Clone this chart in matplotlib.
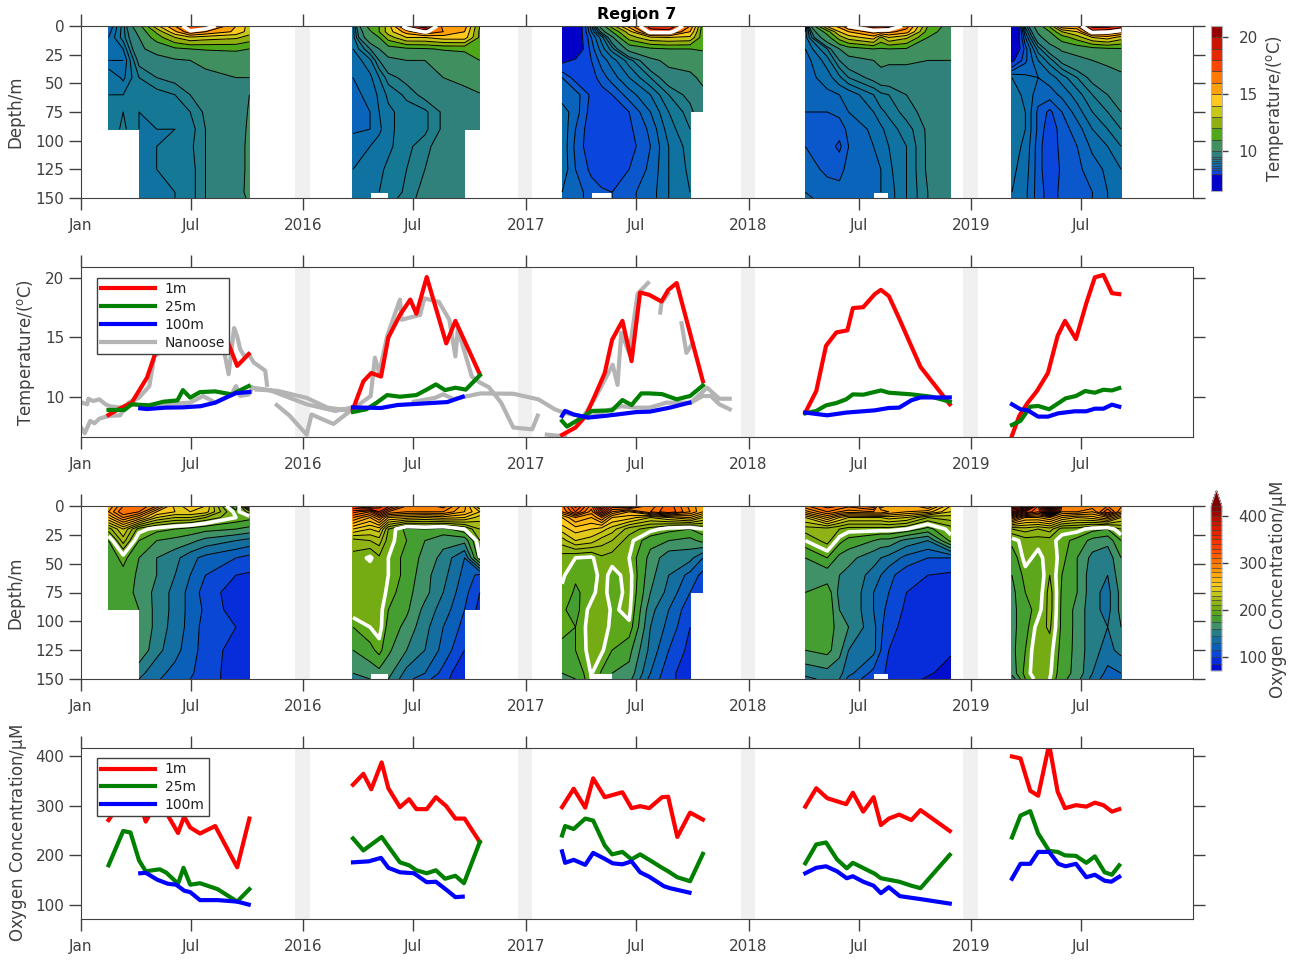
import matplotlib
matplotlib.use('Agg')
import matplotlib.pyplot as plt
import numpy as np
from matplotlib.colors import LinearSegmentedColormap

nan = np.nan

# time axis is days since 2015-01-01
tick_days = [0, 181, 365, 546, 731, 912, 1096, 1277, 1461, 1642]
tick_labels = ['Jan', 'Jul', '2016', 'Jul', '2017', 'Jul', '2018', 'Jul', '2019', 'Jul']
band_days = [(352, 376), (717, 741), (1083, 1107), (1448, 1472)]
depths = [0, 5, 10, 20, 30, 45, 60, 75, 90, 105, 125, 145, 150]

days1 = [46, 70, 96, 125, 155, 180, 205, 255, 277]
days2 = [447, 475, 490, 505, 535, 565, 595, 630, 655]
days3 = [790, 812, 838, 855, 872, 900, 935, 965, 1000, 1021]
days4 = [1189, 1225, 1245, 1260, 1301, 1313, 1326, 1355, 1390, 1428]
days5 = [1528, 1550, 1571, 1590, 1610, 1635, 1660, 1685, 1707]

temp1 = [[8.5, 9.2, 10.6, 13.7, 16.0, 18.0, 18.0, 15.0, 13.6],
         [8.6, 9.2, 10.2, 12.2, 14.8, 16.8, 16.0, 14.8, 13.5],
         [8.7, 9.2, 10.0, 11.5, 13.0, 13.8, 13.5, 13.2, 12.6],
         [8.8, 8.9, 9.9, 10.2, 10.8, 11.0, 11.1, 11.2, 11.0],
         [8.7, 8.7, 9.6, 9.8, 9.9, 10.0, 10.1, 10.2, 10.6],
         [9.1, 8.85, 9.3, 9.5, 9.6, 9.7, 9.9, 10.0, 10.0],
         [9.1, 9.1, 9.15, 9.2, 9.3, 9.5, 9.7, 9.8, 10.0],
         [9.15, 9.3, 9.1, 9.2, 9.2, 9.3, 9.55, 9.7, 10.05],
         [9.15, 9.35, 9.1, 9.1, 9.1, 9.2, 9.5, 9.7, 10.1],
         [nan, nan, 9.05, 9.1, 9.15, 9.25, 9.5, 9.8, 10.1],
         [nan, nan, 9.1, 9.1, 9.15, 9.2, 9.5, 9.8, 10.1],
         [nan, nan, 9.0, 9.05, 9.1, 9.2, 9.5, 9.85, 10.1],
         [nan, nan, 9.0, 9.05, 9.1, 9.2, 9.5, 9.85, 10.05]]
temp2 = [[9.0, 11.5, 12.0, 13.5, 18.0, 20.0, 15.5, 15.5, 12.0],
         [9.0, 10.8, 12.0, 13.5, 15.5, 17.2, 16.0, 15.0, 11.8],
         [9.0, 10.5, 11.0, 12.5, 14.0, 14.0, 14.5, 14.5, 11.8],
         [8.9, 9.5, 10.0, 10.5, 10.8, 10.9, 11.1, 11.2, 11.3],
         [8.75, 9.05, 9.5, 9.8, 10.0, 10.0, 10.2, 10.4, 11.0],
         [8.7, 8.85, 9.1, 9.4, 9.6, 9.8, 10.0, 10.05, 10.9],
         [8.65, 8.75, 8.95, 9.15, 9.35, 9.6, 9.8, 9.95, 9.9],
         [8.65, 8.7, 8.9, 9.05, 9.2, 9.25, 9.55, 9.85, 9.9],
         [8.65, 8.7, 8.85, 9.05, 9.2, 9.25, 9.55, 9.8, 9.9],
         [8.85, 8.9, 9.0, 9.05, 9.25, 9.4, 9.7, 9.8, nan],
         [8.9, 9.0, 9.05, 9.15, 9.3, 9.5, 9.75, 9.8, nan],
         [9.0, 9.05, 9.1, 9.15, 9.35, 9.6, 9.75, 9.8, nan],
         [9.0, 9.05, nan, 9.2, 9.4, 9.6, 9.75, 9.8, nan]]
temp3 = [[6.8, 7.4, 8.8, 10.4, 12.5, 15.5, 18.5, 19.0, 16.0, 11.5],
         [6.9, 7.5, 8.7, 9.6, 11.0, 13.5, 17.5, 17.5, 15.0, 11.3],
         [7.2, 7.6, 8.5, 9.0, 9.8, 12.5, 13.8, 14.0, 13.8, 11.4],
         [7.6, 7.6, 8.4, 8.8, 9.2, 10.2, 10.8, 11.0, 11.0, 11.1],
         [7.9, 8.05, 8.3, 8.6, 8.8, 9.2, 9.8, 10.2, 10.2, 10.5],
         [8.5, 8.2, 8.2, 8.4, 8.6, 8.9, 9.3, 9.7, 9.9, 10.1],
         [8.6, 8.6, 8.25, 8.2, 8.3, 8.6, 8.9, 9.3, 9.6, 9.9],
         [8.8, 8.6, 8.2, 8.1, 8.1, 8.3, 8.7, 9.1, 9.4, 9.8],
         [8.85, 8.5, 8.15, 8.1, 8.1, 8.25, 8.55, 9.0, 9.3, nan],
         [8.85, 8.45, 8.15, 8.1, 8.1, 8.2, 8.5, 8.9, 9.2, nan],
         [8.85, 8.5, 8.25, 8.1, 8.2, 8.3, 8.55, 8.9, 9.15, nan],
         [8.7, 8.6, 8.4, 8.35, 8.3, 8.45, 8.6, 8.9, 9.1, nan],
         [8.7, 8.6, 8.4, nan, 8.3, 8.45, 8.6, 8.9, 9.1, nan]]
temp4 = [[8.6, 14.3, 15.4, 17.2, 18.7, 19.0, 18.5, 16.5, 12.0, 10.4],
         [8.7, 11.5, 14.0, 15.0, 16.5, 16.2, 16.3, 15.5, 11.5, 10.3],
         [8.8, 10.5, 12.5, 13.5, 14.5, 12.8, 14.0, 13.2, 11.0, 10.2],
         [8.7, 9.3, 10.0, 10.5, 11.0, 10.9, 11.0, 10.9, 10.3, 10.1],
         [8.6, 9.0, 9.5, 9.7, 10.0, 10.2, 10.1, 10.1, 10.0, 10.0],
         [8.6, 8.8, 9.05, 9.3, 9.6, 9.7, 9.7, 9.7, 9.8, 9.9],
         [8.55, 8.65, 8.7, 8.75, 9.1, 9.25, 9.3, 9.5, 9.7, 9.85],
         [8.5, 8.5, 8.55, 8.7, 8.9, 9.05, 9.15, 9.4, 9.6, 9.8],
         [8.5, 8.45, 8.4, 8.55, 8.75, 8.85, 9.0, 9.2, 9.55, 9.8],
         [8.5, 8.4, 8.25, 8.5, 8.7, 8.75, 8.9, 9.1, 9.55, 9.8],
         [8.6, 8.45, 8.45, 8.55, 8.65, 8.7, 8.85, 9.1, 9.55, 9.8],
         [8.7, 8.6, 8.55, 8.55, 8.6, 8.7, 8.8, 9.1, 9.5, 9.8],
         [8.75, 8.6, 8.55, 8.55, 8.6, nan, 8.8, 9.1, 9.5, 9.8]]
temp5 = [[6.7, 9.2, 10.4, 12.2, 16.0, 16.0, 19.5, 19.5, 18.7],
         [6.9, 8.9, 10.1, 11.0, 13.0, 14.0, 17.5, 17.2, 16.5],
         [7.2, 8.7, 9.8, 10.4, 11.5, 12.5, 14.0, 14.5, 13.5],
         [7.4, 8.4, 9.2, 9.7, 10.1, 10.3, 10.6, 10.8, 10.9],
         [7.9, 8.45, 8.9, 9.2, 9.6, 9.8, 10.0, 10.1, 10.2],
         [8.9, 8.75, 8.7, 8.8, 9.0, 9.3, 9.6, 9.8, 9.9],
         [9.0, 8.85, 8.6, 8.6, 8.75, 9.0, 9.3, 9.5, 9.7],
         [9.05, 8.9, 8.45, 8.25, 8.5, 8.8, 9.1, 9.3, 9.5],
         [9.05, 8.9, 8.45, 8.15, 8.4, 8.6, 8.9, 9.1, 9.3],
         [9.0, 8.85, 8.4, 8.1, 8.4, 8.5, 8.75, 8.9, 9.1],
         [8.95, 8.8, 8.4, 8.1, 8.35, 8.45, 8.6, 8.75, 8.9],
         [8.9, 8.75, 8.4, 8.2, 8.35, 8.4, 8.5, 8.7, 8.8],
         [8.9, 8.75, 8.4, 8.2, 8.35, 8.4, 8.5, 8.7, 8.8]]

oxy1 = [[271, 300, 310, 290, 245, 256, 250, 177, 274],
        [280, 310, 300, 260, 250, 250, 245, 195, 215],
        [260, 290, 270, 240, 230, 230, 220, 200, 195],
        [215, 240, 205, 195, 190, 185, 180, 175, 170],
        [190, 225, 190, 175, 170, 165, 155, 145, 140],
        [180, 195, 175, 160, 150, 135, 125, 115, 110],
        [178, 185, 172, 160, 145, 130, 115, 100, 98],
        [178, 180, 172, 155, 140, 125, 108, 92, 90],
        [180, 180, 175, 155, 140, 125, 112, 92, 92],
        [nan, nan, 175, 155, 138, 125, 108, 100, 95],
        [nan, nan, 172, 150, 135, 122, 108, 94, 96],
        [nan, nan, 150, 135, 125, 118, 105, 95, 95],
        [nan, nan, 145, 132, 122, 115, 105, 95, 95]]
oxy2 = [[342, 364, 345, 335, 300, 293, 305, 274, 228],
        [315, 300, 330, 300, 290, 290, 290, 270, 250],
        [290, 270, 290, 260, 255, 250, 255, 250, 235],
        [250, 240, 245, 210, 185, 190, 185, 200, 220],
        [215, 220, 225, 205, 190, 175, 165, 165, 210],
        [207, 198, 208, 200, 185, 170, 155, 130, 200],
        [208, 208, 208, 200, 185, 165, 150, 125, 110],
        [210, 209, 207, 197, 180, 165, 145, 120, 100],
        [208, 206, 205, 190, 178, 155, 138, 115, 95],
        [190, 200, 205, 185, 170, 150, 130, 110, nan],
        [175, 185, 195, 178, 160, 145, 125, 100, nan],
        [160, 165, 170, 165, 140, 130, 110, 85, nan],
        [160, 160, nan, 160, 135, 120, 105, 88, nan]]
oxy3 = [[297, 334, 296, 355, 317, 327, 293, 317, 286, 272],
        [290, 320, 285, 330, 290, 270, 300, 320, 290, 270],
        [260, 280, 270, 290, 260, 255, 240, 250, 260, 240],
        [245, 255, 250, 245, 235, 215, 205, 195, 190, 200],
        [225, 240, 235, 225, 220, 205, 180, 175, 170, 180],
        [205, 200, 198, 208, 205, 200, 170, 150, 150, 130],
        [202, 192, 190, 207, 195, 205, 165, 145, 125, 110],
        [198, 188, 195, 208, 192, 205, 160, 140, 115, 100],
        [192, 185, 205, 209, 198, 203, 150, 130, 105, nan],
        [192, 190, 206, 208, 196, 198, 145, 125, 100, nan],
        [188, 190, 205, 202, 190, 180, 140, 115, 95, nan],
        [175, 178, 201, 188, 175, 170, 130, 105, 90, nan],
        [170, 175, 200, nan, 170, 165, 125, 105, 90, nan]]
oxy4 = [[298, 315, 310, 303, 317, 261, 274, 271, 291, 249],
        [275, 300, 290, 285, 290, 290, 280, 270, 265, 240],
        [240, 270, 250, 240, 240, 240, 245, 240, 220, 225],
        [215, 215, 210, 205, 205, 205, 205, 200, 185, 205],
        [200, 215, 195, 185, 175, 170, 170, 155, 145, 195],
        [175, 190, 170, 165, 150, 145, 140, 125, 115, 115],
        [170, 165, 160, 155, 140, 130, 120, 105, 100, 97],
        [175, 185, 155, 160, 130, 125, 115, 100, 95, 92],
        [178, 188, 160, 160, 130, 120, 110, 97, 92, 90],
        [178, 188, 165, 160, 135, 118, 105, 95, 90, 88],
        [175, 180, 165, 145, 135, 115, 100, 92, 88, 86],
        [150, 155, 150, 135, 110, 105, 95, 88, 86, 82],
        [140, 150, 145, 125, 105, nan, 95, 88, 84, 80]]
oxy5 = [[399, 390, 320, 423, 300, 300, 298, 300, 293],
        [360, 330, 310, 380, 290, 290, 280, 320, 280],
        [300, 270, 270, 280, 260, 250, 255, 270, 240],
        [220, 225, 220, 225, 205, 205, 195, 190, 210],
        [195, 205, 205, 205, 195, 185, 170, 165, 190],
        [180, 205, 195, 208, 195, 175, 155, 150, 175],
        [175, 195, 190, 210, 190, 175, 150, 145, 170],
        [170, 190, 192, 215, 188, 175, 150, 140, 165],
        [170, 185, 195, 215, 187, 170, 150, 140, 165],
        [170, 185, 205, 212, 187, 170, 150, 145, 160],
        [170, 190, 210, 205, 185, 170, 150, 140, 150],
        [165, 195, 208, 202, 182, 170, 145, 125, 130],
        [150, 190, 205, 200, 180, 165, 140, 120, 125]]

# temperature lines, one pair of lists per depth, nan splits the years
t1m_day = [46, 62, 84, 109, 123, 140, 160, 180, 201, 221, 238, 257, 276, nan,
           447, 464, 477, 493, 505, 524, 541, 551, 568, 600, 615, 655, nan,
           790, 812, 829, 846, 860, 872, 889, 904, 918, 933, 953, 964, 978, 1021, nan,
           1189, 1207, 1223, 1240, 1258, 1267, 1284, 1303, 1313, 1326, 1343, 1363, 1378, 1426, nan,
           1528, 1540, 1554, 1569, 1587, 1603, 1615, 1633, 1650, 1664, 1678, 1692, 1704]
t1m_val = [8.46, 8.94, 9.5, 11.6, 13.7, 15.5, 17.5, 18, 18.5, 16.5, 15.1, 12.6, 13.6, nan,
           8.94, 11.3, 12.0, 11.7, 15, 16.9, 18.2, 17, 20.1, 14.5, 16.4, 11.9, nan,
           6.78, 7.4, 8.38, 10.34, 12, 14.8, 16.4, 13, 18.8, 18.6, 18.04, 19, 19.6, 11.3, nan,
           8.66, 10.48, 14.3, 15.43, 15.6, 17.48, 17.56, 18.66, 19.02, 18.5, 16.6, 14.26, 12.52, 9.36, nan,
           6.7, 8.38, 9.5, 10.48, 12, 15.15, 16.4, 14.87, 17.9, 20.08, 20.28, 18.74, 18.66]
t25m_day = [46, 72, 84, 113, 136, 159, 168, 180, 196, 221, 248, 276, nan,
            447, 469, 486, 503, 524, 551, 568, 583, 598, 615, 632, 655, nan,
            790, 798, 818, 839, 872, 889, 904, 920, 933, 954, 978, 1000, 1021, nan,
            1189, 1207, 1223, 1240, 1256, 1267, 1284, 1313, 1326, 1363, 1396, 1426, nan,
            1528, 1542, 1558, 1571, 1589, 1616, 1633, 1648, 1664, 1678, 1692, 1704]
t25m_val = [8.88, 8.88, 9.36, 9.27, 9.58, 9.69, 10.56, 9.92, 10.39, 10.45, 10.2, 10.9, nan,
            8.71, 8.94, 9.5, 10.14, 10, 10.14, 10.6, 11.04, 10.56, 10.76, 10.6, 11.8, nan,
            7.95, 7.48, 8.1, 8.8, 8.85, 9.72, 9.3, 10.28, 10.28, 10.22, 9.78, 10.06, 10.95, nan,
            8.6, 8.8, 9.27, 9.47, 9.78, 10.2, 10.17, 10.53, 10.34, 10.2, 10, 9.58, nan,
            7.62, 7.96, 9.16, 9.22, 8.94, 9.86, 10.06, 10.48, 10.34, 10.59, 10.53, 10.73]
t100m_day = [98, 109, 140, 167, 197, 221, 242, 255, 277, nan,
             447, 493, 520, 602, 627, nan,
             790, 795, 809, 833, 860, 880, 911, 934, 967, 999, nan,
             1189, 1225, 1256, 1303, 1326, 1343, 1363, 1378, 1426, nan,
             1528, 1542, 1554, 1571, 1587, 1604, 1631, 1650, 1664, 1678, 1692, 1704]
t100m_val = [9.02, 8.96, 9.08, 9.1, 9.2, 9.5, 10, 10.3, 10.4, nan,
             9.1, 9.05, 9.3, 9.55, 10, nan,
             8.38, 8.8, 8.5, 8.24, 8.38, 8.5, 8.7, 8.74, 9.08, 9.5, nan,
             8.66, 8.43, 8.66, 8.85, 9.05, 9.08, 9.7, 9.94, 9.94, nan,
             9.36, 8.94, 8.85, 8.32, 8.32, 8.6, 8.77, 8.77, 8.99, 8.99, 9.33, 9.16]
nanoose_day = [0, 7, 16, 23, 31, 46, 65, 79, 96, 113, 121, 180, 235, 243, 252, 257, 262, 269, 276, 284, 303, 306, nan,
               322, 343, 371, 379, 415, 445, 476, 483, 490, 503, 524, 527, 557, 564, 588, 605, 615, 619, 642, 655, 670,
               690, 710, 741, 750, nan,
               765, 795, nan, 826, 846, 873, 881, 887, 900, 914, 931, nan, 951, 953, 964, nan, 986, 994, 1004, nan,
               289, 323, 371, 405, 445, nan, 282, 310, 371, 418, 445, nan,
               0, 11, 13, 21, 31, 41, 48, 65, 85, 99, 180, 201, 221, 248, 255, 262, 276, 282, nan,
               547, 581, 595, 612, 636, 656, 710, 751, 778, 792, 833, 853, 887, 911, 934, 961, 1001, 1028, 1048, 1065, nan,
               1001, 1021, 1034, 1048, 1065]
nanoose_val = [7.48, 6.92, 7.96, 7.76, 8.15, 8.38, 8.43, 9.5, 9.92, 10.9, 13.4, 15.5, 14, 11.9, 15.8, 15.1, 14, 13.4, 13.6, 12.9, 12.2, 11, nan,
               9.3, 8.4, 6.8, 8.5, 7.7, 8.9, 10.06, 13.3, 12, 15.1, 18.2, 16.5, 16.9, 18.3, 18, 16.5, 13.4, 15.7, 11.7, 11.2, 10.8,
               9.5, 7.4, 7.25, 8.4, nan,
               6.8, 6.65, nan, 8.4, 10.06, 12.7, 11, 15.4, 13.7, 18.7, 19.6, nan, 17.1, 17.9, 18.7, nan, 16.2, 13.7, 14.5, nan,
               10.6, 10.5, 9.9, 9.08, 8.8, nan, 10.76, 10.56, 9.36, 8.8, 9.08, nan,
               9.55, 9.36, 9.83, 9.64, 9.78, 9.36, 9.2, 9.08, 9.36, 9.27, 9.5, 10.06, 9.5, 10.2, 10.9, 10.06, 10.2, 10.76, nan,
               9.58, 9.9, 10.2, 9.8, 10.06, 10.28, 10.25, 9.78, 8.94, 8.66, 8.24, 8.66, 9.2, 9.08, 9.08, 9.5, 9.5, 10.76, 9.83, 9.83, nan,
               9.5, 10.06, 10.06, 9.36, 8.94]

# oxygen lines
o1m_day = [46, 62, 85, 96, 107, 116, 130, 143, 160, 170, 180, 196, 221, 257, 277, nan,
           447, 464, 477, 494, 505, 524, 539, 551, 568, 583, 600, 615, 630, 655, nan,
           790, 809, 828, 841, 860, 889, 904, 918, 933, 954, 964, 979, 1000, 1021, nan,
           1189, 1207, 1225, 1256, 1267, 1284, 1301, 1313, 1326, 1343, 1363, 1378, 1426, nan,
           1528, 1542, 1558, 1571, 1589, 1603, 1615, 1633, 1650, 1664, 1678, 1692, 1704]
o1m_val = [271, 300, 320, 310, 268, 288, 300, 281, 245, 278, 256, 244, 259, 176, 274, nan,
           342, 364, 333, 387, 335, 297, 313, 293, 293, 317, 299, 274, 274, 227, nan,
           297, 334, 296, 355, 317, 327, 295, 299, 295, 317, 318, 237, 286, 272, nan,
           298, 335, 315, 303, 326, 288, 317, 261, 274, 282, 271, 291, 249, nan,
           399, 395, 330, 320, 423, 328, 295, 301, 298, 306, 301, 288, 293]
o25m_day = [46, 70, 82, 96, 107, 130, 141, 160, 169, 180, 196, 225, 257, 277, nan,
            447, 464, 494, 508, 524, 539, 551, 568, 583, 598, 615, 629, 655, nan,
            790, 795, 809, 828, 841, 860, 872, 889, 904, 918, 933, 954, 964, 979, 1000, 1021, nan,
            1189, 1207, 1223, 1241, 1257, 1267, 1303, 1313, 1343, 1363, 1378, 1426, nan,
            1528, 1542, 1558, 1571, 1589, 1603, 1615, 1633, 1650, 1664, 1680, 1692, 1704]
o25m_val = [180, 249, 246, 190, 168, 172, 165, 143, 175, 141, 144, 132, 107, 132, nan,
            234, 210, 237, 213, 186, 180, 170, 164, 170, 153, 159, 144, 227, nan,
            240, 259, 253, 274, 270, 220, 202, 207, 192, 202, 191, 175, 168, 156, 148, 203, nan,
            184, 222, 226, 192, 174, 185, 163, 154, 147, 139, 134, 201, nan,
            236, 280, 289, 244, 209, 207, 200, 199, 185, 198, 166, 161, 180]
o100m_day = [98, 107, 126, 143, 157, 170, 180, 196, 225, 257, 276, nan,
             447, 473, 493, 505, 524, 547, 568, 583, 602, 615, 627, nan,
             790, 795, 809, 828, 841, 860, 873, 889, 904, 918, 933, 957, 967, 999, nan,
             1189, 1207, 1223, 1241, 1257, 1267, 1284, 1301, 1313, 1326, 1344, 1378, 1426, nan,
             1528, 1542, 1558, 1571, 1589, 1604, 1616, 1633, 1650, 1664, 1680, 1691, 1704]
o100m_val = [164, 165, 151, 143, 141, 129, 126, 110, 110, 107, 101, nan,
             186, 188, 195, 175, 166, 164, 146, 147, 129, 116, 117, nan,
             208, 185, 191, 181, 205, 193, 184, 182, 188, 166, 157, 138, 134, 125, nan,
             164, 175, 178, 168, 154, 158, 147, 139, 124, 136, 118, 112, 103, nan,
             153, 183, 183, 207, 207, 183, 178, 183, 156, 161, 149, 147, 157]

temp_levels = [6.5, 8, 8.3, 8.5, 8.7, 8.9, 9.1, 9.3, 9.5, 10, 11, 12, 13, 14, 15, 16, 17, 18, 19, 20, 21]
temp_colors = ['#0000c8', '#0a46dc', '#0a58cb', '#0a64b9', '#0a6cab', '#0f72a0', '#157894', '#1f7c88', '#30807c',
               '#3f8f5f', '#4fa81a', '#90b010', '#c8c818', '#ffc81e', '#ffa00a', '#ff7800', '#ff4600', '#e62800',
               '#c81400', '#960000']
oxy_levels = [70, 85, 100, 115, 130, 145, 160, 175, 190, 200] + list(range(210, 430, 10))
oxy_anchor = [(70, '#0000c8'), (100, '#0a3ce0'), (125, '#0a64b4'), (150, '#1f7a8c'), (165, '#3f8f6f'), (185, '#45a02a'),
              (200, '#6aaa14'), (220, '#9ab414'), (240, '#d2cc18'), (255, '#ffc81e'), (280, '#ffa00a'), (300, '#ff7800'),
              (330, '#ff4600'), (360, '#e62800'), (390, '#c81400'), (420, '#7d0000')]
oxy_cmap = LinearSegmentedColormap.from_list('oxy', [((v - 70) / 350.0, c) for v, c in oxy_anchor])
oxy_cmap.set_over('#7d0000')

W, H = 1291.0, 961.0
ink = '#404040'
plt.rcParams['font.size'] = 11
plt.rcParams['text.color'] = ink
plt.rcParams['axes.labelcolor'] = ink
plt.rcParams['axes.labelsize'] = 12
plt.rcParams['xtick.color'] = ink
plt.rcParams['ytick.color'] = ink
plt.rcParams['axes.edgecolor'] = ink
plt.rcParams['mathtext.default'] = 'regular'

fig = plt.figure(figsize=(W / 100, H / 100), dpi=100)


def make_axes(top, bottom):
    ax = fig.add_axes([80.5 / W, 1 - bottom / H, (1193 - 80.5) / W, (bottom - top) / H])
    ax.set_xlim(0, 1825)
    ax.set_xticks(tick_days)
    ax.set_xticklabels(tick_labels)
    ax.tick_params(axis='both', direction='out', length=8.6, width=1, top=True, right=True)
    ax.tick_params(axis='x', pad=6)
    ax.tick_params(axis='y', pad=3)
    for a, b in band_days:
        ax.axvspan(a, b, color='#f0f0f0', lw=0, zorder=0)
    return ax


def draw_section(ax, blocks, levels, white, line_levels, **kw):
    cs = None
    for days, vals in blocks:
        z = np.array(vals, dtype=float)
        cs = ax.contourf(days, depths, z, levels=levels, zorder=1, corner_mask=False, **kw)
        ax.contour(days, depths, z, levels=line_levels, colors='k', linewidths=0.7, zorder=2, corner_mask=False)
        ax.contour(days, depths, z, levels=[white], colors='w', linewidths=2.6, zorder=3, corner_mask=False)
    ax.set_ylim(150, 0)
    ax.set_yticks([0, 25, 50, 75, 100, 125, 150])
    ax.set_ylabel('Depth/m')
    ax.yaxis.set_label_coords(-0.05, 0.5)
    return cs


# top panel
ax1 = make_axes(26, 198)
temp_blocks = [(days1, temp1), (days2, temp2), (days3, temp3), (days4, temp4), (days5, temp5)]
cs1 = draw_section(ax1, temp_blocks, temp_levels, 17, temp_levels, colors=temp_colors)
fig.text(637 / W, 1 - 14 / H, 'Region 7', ha='center', va='center', fontweight='bold', color='k', fontsize=11.5)
cax1 = fig.add_axes([1211 / W, 1 - 190.7 / H, 11 / W, 164.7 / H])
cb1 = fig.colorbar(cs1, cax=cax1, ticks=[10, 15, 20], spacing='proportional', drawedges=True)
cb1.dividers.set_linewidth(0.6)
cb1.outline.set_edgecolor('#b0b0b0')
cb1.ax.tick_params(length=4, width=1, pad=8)
fig.text(1275 / W, 1 - 108 / H, 'Temperature/($^{o}$C)', rotation=90, ha='center', va='center', fontsize=12)

# temperature lines
ax2 = make_axes(267, 437)
ax2.plot(t1m_day, t1m_val, color='r', lw=3, label='1m', zorder=3)
ax2.plot(t25m_day, t25m_val, color='g', lw=3, label='25m', zorder=3)
ax2.plot(t100m_day, t100m_val, color='b', lw=3, label='100m', zorder=3)
ax2.plot(nanoose_day, nanoose_val, color='#b4b4b4', lw=3, label='Nanoose', zorder=2)
ax2.set_ylim(6.6, 20.95)
ax2.set_yticks([10, 15, 20])
ax2.set_ylabel('Temperature/($^{o}$C)')
ax2.yaxis.set_label_coords(-0.039, 0.5)
leg2 = ax2.legend(loc='upper left', bbox_to_anchor=(0.0144, 0.935), borderaxespad=0, fancybox=False, framealpha=1,
                  edgecolor=ink, fontsize=10, handlelength=3.9, labelspacing=0.28, borderpad=0.3, handletextpad=0.7)
leg2.set_zorder(20)
for t in leg2.get_texts():
    t.set_color('#202020')

# oxygen section
ax3 = make_axes(506, 679)
oxy_blocks = [(days1, oxy1), (days2, oxy2), (days3, oxy3), (days4, oxy4), (days5, oxy5)]
cs3 = draw_section(ax3, oxy_blocks, oxy_levels, 200, oxy_levels, cmap=oxy_cmap, extend='max')
cax3 = fig.add_axes([1211 / W, 1 - 671 / H, 11 / W, 181 / H])
cb3 = fig.colorbar(cs3, cax=cax3, ticks=[100, 200, 300, 400], spacing='proportional', drawedges=True, extendfrac=0.1)
cb3.dividers.set_linewidth(0.5)
cb3.outline.set_edgecolor('#b0b0b0')
cb3.ax.tick_params(length=4, width=1, pad=8)
fig.text(1278 / W, 1 - 590 / H, 'Oxygen Concentration/$\\mu$M', rotation=90, ha='center', va='center', fontsize=12)

# oxygen lines
ax4 = make_axes(748, 919)
ax4.plot(o1m_day, o1m_val, color='r', lw=3, label='1m')
ax4.plot(o25m_day, o25m_val, color='g', lw=3, label='25m')
ax4.plot(o100m_day, o100m_val, color='b', lw=3, label='100m')
ax4.set_ylim(72, 416)
ax4.set_yticks([100, 200, 300, 400])
ax4.set_ylabel('Oxygen Concentration/$\\mu$M')
ax4.yaxis.set_label_coords(-0.046, 0.5)
leg4 = ax4.legend(loc='upper left', bbox_to_anchor=(0.0144, 0.94), borderaxespad=0, fancybox=False, framealpha=1,
                  edgecolor=ink, fontsize=10, handlelength=3.9, labelspacing=0.28, borderpad=0.3, handletextpad=0.7)
leg4.set_zorder(20)
for t in leg4.get_texts():
    t.set_color('#202020')

fig.savefig('out.png', dpi=100)
